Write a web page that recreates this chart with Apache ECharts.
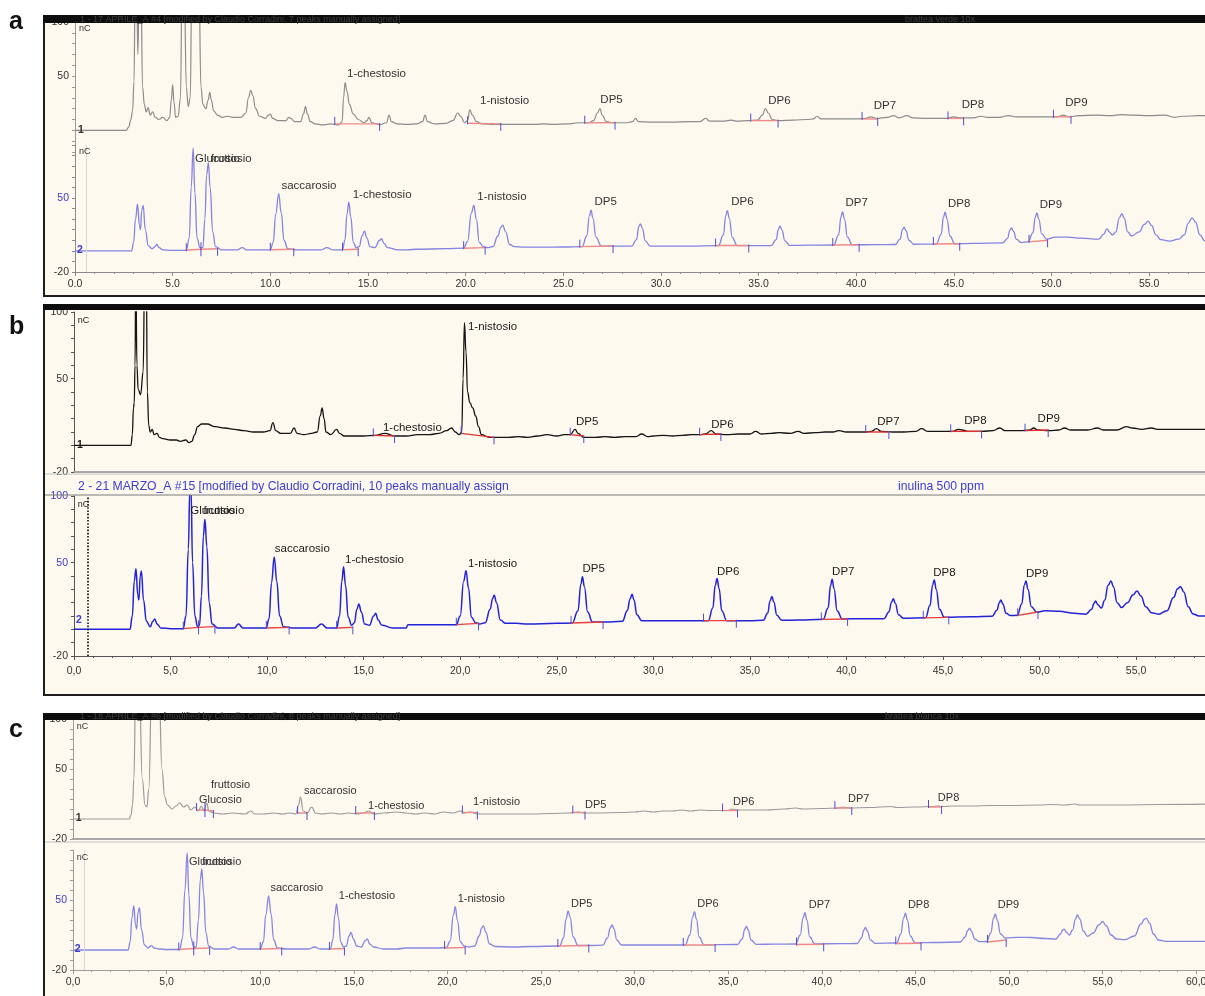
<!DOCTYPE html>
<html>
<head>
<meta charset="utf-8">
<script src="https://cdn.jsdelivr.net/npm/echarts@6/dist/echarts.min.js"></script>
<style>
  html, body { margin: 0; padding: 0; background: #ffffff; overflow: hidden; }
  #chart { width: 1205px; height: 996px; }
</style>
</head>
<body>
<div id="chart"></div>
<script>
// ---------- chromatogram traces: [retention time (min), signal (nC)] ----------

// a: upper sample trace
const traceA1 = [[0,0],[2.62,0],[2.75,3],[2.86,10],[2.95,18],[3.02,45],[3.08,130],[3.16,130],[3.22,70],[3.28,130],[3.38,130],[3.46,40],[3.55,24],[3.65,17],[3.75,21],[3.85,14],[3.98,17],[4.1,12],[4.3,10],[4.5,12],[4.7,9],[4.85,12],[4.93,28],[5.0,42],[5.07,26],[5.15,12],[5.28,13],[5.4,30],[5.48,130],[5.6,130],[5.7,40],[5.8,22],[5.9,30],[5.98,130],[6.35,130],[6.45,40],[6.55,24],[6.7,20],[6.82,28],[6.9,35],[6.98,28],[7.1,18],[7.3,14],[7.55,12],[7.8,13],[8.1,12],[8.5,12],[8.75,16],[8.88,30],[9.0,37],[9.1,32],[9.25,20],[9.45,13],[9.75,11],[9.9,14],[10.0,15],[10.12,11],[10.4,9],[10.8,9],[10.95,12],[11.05,11],[11.25,8],[11.55,8],[11.7,15],[11.8,22],[11.9,15],[12.05,8],[12.3,6],[12.7,5],[13.1,6],[13.5,5],[13.68,8],[13.75,30],[13.83,44],[13.93,36],[14.05,24],[14.25,15],[14.5,10],[14.8,7],[14.95,9],[15.05,12],[15.2,7],[15.6,5],[15.95,7],[16.08,14],[16.2,8],[16.5,6],[17.0,5.5],[17.5,6],[17.8,8],[17.92,14],[18.05,8],[18.4,6],[19.0,6.5],[19.35,9],[19.6,16],[19.75,13],[19.95,7],[20.1,9],[20.22,19],[20.35,14],[20.55,8],[20.85,6],[21.5,5.5],[22.5,5.5],[23.5,5.5],[24.0,6],[24.5,5.5],[25.2,6],[25.8,7],[26.3,7],[26.55,9],[26.75,16],[26.88,20],[27.0,14],[27.2,8],[27.6,7],[28.2,7],[28.55,8],[28.7,11],[28.85,8],[29.5,7.5],[30.5,7.5],[31.5,8],[32.0,8],[32.3,11],[32.5,8.5],[33.2,8.5],[33.6,9.5],[33.9,8.5],[34.5,9],[34.95,9.5],[35.2,14],[35.35,20],[35.5,16],[35.7,10],[36.0,9],[36.8,9.5],[37.5,10],[37.8,10.5],[38.0,13],[38.2,10.5],[39.0,10.5],[40.0,10.5],[40.5,11],[40.75,12.5],[41.0,11],[41.6,12],[41.9,13.5],[42.2,11.5],[42.6,13.5],[42.9,11.5],[43.6,11],[44.6,11],[45.0,12.5],[45.3,11.5],[46.0,11.5],[46.4,13],[46.7,12],[47.3,12],[47.8,13.5],[48.2,12.5],[49.2,12.5],[50.3,12.5],[50.6,14],[50.9,12.5],[51.4,13.5],[52.3,14],[53.0,13.5],[53.6,14.5],[54.1,14],[55.0,13.5],[55.8,14],[56.3,12],[56.7,13],[57.5,13.5],[58,13.5]];

// a: lower standard trace
const traceA2 = [[0,0],[2.9,0],[3.0,8],[3.1,30],[3.2,44],[3.3,24],[3.35,20],[3.42,38],[3.49,43],[3.6,20],[3.75,5],[3.95,2],[4.1,4],[4.19,6],[4.3,3],[4.5,1],[5.0,0.5],[5.7,0.5],[5.85,12],[5.95,60],[6.05,97],[6.14,55],[6.25,12],[6.4,3],[6.55,3],[6.65,30],[6.74,72],[6.83,83],[6.92,60],[7.05,18],[7.2,4],[7.5,1],[8.3,1],[8.56,3],[8.8,1],[10.0,1],[10.15,8],[10.28,35],[10.43,54],[10.56,36],[10.7,10],[10.9,2],[11.3,1],[12.6,1],[12.9,3],[13.2,1],[13.7,1],[13.82,10],[13.93,35],[14.02,46],[14.12,32],[14.25,8],[14.4,3],[14.55,4],[14.7,14],[14.82,18.5],[14.95,12],[15.1,4],[15.35,3],[15.6,10],[15.7,11.4],[15.82,7],[16.0,3],[16.5,1],[17.0,1],[17.5,1.5],[19.0,2],[19.9,2.5],[20.1,9],[20.3,36],[20.42,43],[20.55,30],[20.7,8],[20.9,4],[21.1,3],[21.4,4],[21.65,14],[21.8,22],[21.9,24.3],[22.05,18],[22.25,6],[22.5,4],[23,3.5],[24,3.5],[25,3.6],[25.97,4],[26.2,14],[26.34,33],[26.42,38.4],[26.52,31],[26.67,13],[26.95,4.5],[27.5,4.5],[28.5,4.5],[28.75,10.5],[28.87,23],[28.95,25.5],[29.05,21.5],[29.2,9.5],[29.45,4.5],[30.5,4.5],[31.5,4.5],[32.95,5],[33.2,15],[33.32,33],[33.4,38],[33.5,31],[33.65,13],[33.9,5],[35,5],[35.65,5],[35.9,10.5],[36.02,20.5],[36.1,23.3],[36.2,19.5],[36.35,9.5],[36.6,5.2],[37.5,5.3],[38.85,5.5],[39.1,15],[39.22,32],[39.3,36.8],[39.4,30],[39.55,13],[39.8,5.7],[41,5.8],[42.0,6],[42.25,11],[42.37,20],[42.45,22.4],[42.55,19],[42.7,10],[42.95,6.2],[43.7,6.3],[44.1,6.5],[44.35,15.5],[44.47,32],[44.55,36.5],[44.65,30],[44.8,14],[45.05,6.7],[46,7],[47.5,7.5],[47.75,11.8],[47.87,19.5],[47.95,21.7],[48.05,18.5],[48.2,11],[48.45,7.8],[48.8,8.5],[49.05,17],[49.17,31.5],[49.25,35.9],[49.35,30],[49.5,16],[49.75,11],[50.2,13],[50.8,13],[51.5,12],[52.4,11],[52.7,16],[52.8,20],[52.85,20.8],[52.95,18],[53.12,15],[53.3,18],[53.47,31],[53.6,35.2],[53.72,31],[53.9,18],[54.1,14],[54.5,18],[54.75,25],[54.95,28],[55.12,24],[55.35,15],[55.6,10.5],[56.05,9.2],[56.5,11],[56.8,15],[57.0,26],[57.2,31.2],[57.38,27],[57.6,15],[57.85,9.5],[58.2,8.5]];

// b: upper sample trace
const traceB1 = [[0,0],[2.95,0],[3.02,8],[3.08,28],[3.12,32],[3.16,60],[3.2,130],[3.26,60],[3.32,42],[3.45,38],[3.58,55],[3.66,130],[3.74,130],[3.8,40],[3.87,15],[3.95,10],[4.05,12],[4.15,8],[4.3,9],[4.42,6],[4.6,5],[5.0,4],[5.3,4],[5.5,3],[5.8,4],[5.95,2],[6.1,3],[6.25,8],[6.4,14],[6.6,16],[6.9,16],[7.3,14],[7.8,13],[8.3,12],[8.8,11],[9.3,10],[9.8,10],[10.15,11],[10.3,17],[10.45,11],[10.7,9],[11.2,9],[11.4,13],[11.55,9],[11.9,8],[12.3,9],[12.6,10],[12.75,22],[12.85,28],[12.95,20],[13.05,10],[13.3,8],[13.6,12],[13.75,9],[14,7],[14.5,7],[15,7],[15.6,7.5],[16.1,9],[16.6,7],[17.2,7],[17.8,8],[18.4,8],[18.9,9],[19.3,11],[19.55,13],[19.75,10],[19.95,8],[20.08,10],[20.15,50],[20.22,92],[20.3,70],[20.38,40],[20.5,32],[20.65,28],[20.8,22],[20.95,14],[21.1,8],[21.5,6],[22,6],[22.5,6],[23,6.5],[23.5,6],[24,7],[24.5,8],[25,7],[25.4,8],[25.7,8],[25.95,12],[26.1,9],[26.4,6],[27,6],[27.5,6.5],[28,6],[28.5,6.5],[29.1,6.5],[29.4,8.5],[29.7,6.5],[30,7],[30.5,7.5],[31,7],[31.5,7.5],[32,8],[32.4,8],[32.7,8.5],[33.0,11],[33.25,8.5],[33.8,8],[34.4,8.5],[35.0,8.5],[35.3,10.5],[35.6,8.5],[36.1,9],[36.5,9.5],[37.1,9],[37.5,10.5],[37.8,9],[38.4,9.5],[38.9,10],[39.3,10],[39.6,11],[40.0,10],[40.6,10],[41.0,10],[41.3,10.5],[41.55,12.5],[41.8,10.5],[42.4,10],[43.0,10],[43.6,10.5],[43.9,12.5],[44.2,10.5],[45.0,10.5],[45.5,10.5],[45.8,12],[46.0,11.5],[46.3,10.5],[47.0,10.5],[47.6,11],[47.95,13],[48.2,11],[49.0,11],[49.5,11.5],[49.7,13],[49.9,11.5],[50.5,11],[51.0,11.5],[51.3,13],[51.6,11.5],[52.5,11.5],[53.0,13],[53.3,11.5],[54.0,11.5],[54.5,14],[54.8,13],[55.3,12],[55.8,13],[56.1,12],[57,12],[57.5,12],[58,12],[58.6,12]];

// b: lower standard trace (inulina 500 ppm)
const traceB2 = [[0,0],[2.9,0],[3.02,10],[3.12,36],[3.21,45.4],[3.3,26],[3.36,22],[3.43,40],[3.49,43.7],[3.6,22],[3.75,6],[3.95,2],[4.08,6],[4.18,7.7],[4.3,4],[4.5,1],[5.0,0.5],[5.65,0.5],[5.8,10],[5.92,60],[6.0,105],[6.06,105],[6.14,50],[6.26,10],[6.4,2],[6.5,3],[6.6,25],[6.7,70],[6.78,82.6],[6.88,62],[7.0,20],[7.15,4],[7.45,1],[8.3,1],[8.52,4],[8.75,1],[9.95,1],[10.1,8],[10.23,35],[10.37,54.3],[10.5,36],[10.65,10],[10.85,2],[11.3,1],[12.5,1],[12.82,4],[13.1,1],[13.6,1],[13.75,10],[13.87,36],[13.96,47],[14.06,33],[14.2,9],[14.38,3],[14.52,5],[14.65,15],[14.75,19],[14.88,13],[15.05,4],[15.3,3],[15.52,10],[15.62,12],[15.75,7],[15.95,3],[16.5,1],[17.2,1],[17.3,3.5],[19.0,3.5],[19.8,3.5],[20.0,10],[20.18,36],[20.3,44],[20.43,31],[20.58,9],[20.8,5],[21.0,4],[21.3,5],[21.55,15],[21.68,23],[21.76,25.6],[21.88,20],[22.08,7],[22.35,4.5],[22.9,4.5],[23.5,4],[25.0,4.5],[25.8,4.7],[26.1,14],[26.25,34],[26.33,39.5],[26.43,32],[26.6,13],[26.85,5.5],[27.5,5.5],[28.4,6],[28.65,14],[28.8,23],[28.9,26.3],[29.0,22],[29.15,11],[29.4,6.5],[30.5,6.5],[32,6.5],[32.85,6.5],[33.08,16],[33.21,33],[33.3,38.2],[33.4,31],[33.55,14],[33.8,6.5],[35,6.5],[35.7,6.8],[35.92,12],[36.05,21.5],[36.14,24.6],[36.24,20.5],[36.4,10.5],[36.65,6.8],[37.5,7],[38.8,7.5],[39.05,16],[39.18,33],[39.26,37.5],[39.36,30.5],[39.52,14],[39.78,7.8],[41,8],[41.95,8],[42.2,13],[42.34,20.5],[42.43,23],[42.53,19.5],[42.7,11],[42.95,8.3],[44.1,8.7],[44.33,18],[44.46,33],[44.55,37],[44.65,30],[44.82,15],[45.07,9],[46.5,9.5],[47.55,9.8],[47.8,14.5],[47.92,20],[48.0,22],[48.1,19],[48.27,12],[48.5,10.3],[48.85,10.5],[49.08,19],[49.21,33],[49.3,36.2],[49.4,30],[49.58,17],[49.85,13],[50.3,13.9],[51.0,13.5],[51.8,12],[52.4,11.4],[52.7,15],[52.82,19.5],[52.9,21.3],[53.02,18.5],[53.2,16],[53.38,22],[53.55,33],[53.7,36.2],[53.83,32],[54.02,20],[54.25,16.4],[54.55,20],[54.85,26],[55.05,28.8],[55.25,25],[55.5,17],[55.8,12.5],[56.16,11.4],[56.6,14],[56.95,24],[57.15,30.5],[57.3,32],[57.47,28],[57.7,17],[57.95,11.5],[58.27,10],[58.6,10]];

// c: upper sample trace
const traceC1 = [[0,0],[3.0,0],[3.1,4],[3.18,14],[3.25,40],[3.35,130],[3.55,130],[3.7,40],[3.85,14],[3.95,12],[4.05,30],[4.2,130],[4.6,130],[4.75,50],[4.9,22],[5.05,14],[5.3,10],[5.5,13],[5.7,16],[5.9,12],[6.1,14],[6.3,9],[6.5,12],[6.7,8],[6.85,13],[7.0,8],[7.15,16],[7.25,8],[7.5,6],[8,5],[8.5,6],[9.2,5],[9.5,8],[9.7,5],[10.2,5],[10.7,6],[11.2,5],[11.6,6],[11.9,5],[12.05,14],[12.15,22],[12.3,8],[12.5,6],[12.75,12],[12.95,6],[13.3,5],[13.8,6],[14.3,5],[14.7,6],[15.2,5],[15.5,6],[15.8,8],[16.1,5],[16.6,6],[17.3,7],[17.8,6],[18.3,5],[18.8,6],[19.3,5],[19.8,7],[20.3,6],[20.7,8],[20.9,6],[21.2,7],[21.6,5],[22.5,5],[23.5,5],[24.5,5],[25.5,5.5],[26.5,6],[27,7],[27.3,6],[28,6],[29.3,6.5],[30,7],[30.5,8],[31,7],[31.5,8],[32,8],[32.5,9],[33,8],[33.5,9],[34,8.5],[35,8.5],[35.2,10],[35.5,9],[36,9],[37,9],[38,10],[38.6,11],[39,10],[40,10.5],[40.9,11],[41.1,12],[41.5,11],[42.5,11.5],[43.7,12.5],[44,11.5],[45,12],[45.9,12.5],[46.2,13],[46.5,12.5],[47,13],[48,13],[49,13.5],[50,13.5],[51.7,14],[52.2,14.5],[53,14],[53.5,15],[53.8,14],[54.5,14],[56,14],[58,14.5],[61,15]];

// c: lower standard trace
const traceC2 = [[0,0],[2.95,0],[3.05,8],[3.15,32],[3.25,44.4],[3.34,25],[3.4,21],[3.47,37],[3.55,42.4],[3.66,20],[3.82,5],[4.0,2],[4.12,3.5],[4.2,4.4],[4.32,2],[4.6,1],[5.0,0.5],[5.7,0.5],[5.85,12],[5.98,60],[6.1,97],[6.19,55],[6.3,12],[6.45,3],[6.58,3],[6.7,30],[6.8,70],[6.88,81],[6.97,58],[7.1,17],[7.25,4],[7.55,1],[8.3,1],[8.58,3],[8.85,1],[10.0,1],[10.17,8],[10.3,35],[10.45,54],[10.58,36],[10.72,10],[10.92,2],[11.4,1],[12.6,1],[12.9,3],[13.2,1],[13.75,1],[13.88,10],[13.99,35],[14.08,46],[14.18,32],[14.3,8],[14.45,3],[14.6,4],[14.75,14],[14.85,17.6],[14.98,11],[15.15,4],[15.4,3],[15.62,9.5],[15.72,11],[15.85,6],[16.05,3],[16.6,1],[17.3,1],[17.8,2],[19.5,2],[19.95,2.5],[20.15,9],[20.32,35],[20.42,43.4],[20.53,30],[20.7,8],[20.9,4],[21.15,3],[21.45,4],[21.7,14],[21.83,22],[21.92,24.2],[22.05,18],[22.25,6],[22.55,3.5],[23.5,3],[24.5,3.5],[26.0,4],[26.2,12],[26.34,31],[26.45,39],[26.55,33],[26.72,13],[26.98,4.5],[27.6,4.5],[28.3,4.8],[28.55,12],[28.7,22],[28.8,25],[28.9,21],[29.05,10],[29.3,5],[30.5,5],[32.7,5],[32.95,15],[33.1,33],[33.2,38.4],[33.3,31],[33.45,13],[33.7,5.2],[35.5,5.5],[35.75,11],[35.88,20.5],[35.97,23.5],[36.07,20],[36.22,10],[36.5,5.7],[37.5,5.8],[38.6,6],[38.85,15],[39.0,32],[39.1,37.4],[39.2,30],[39.36,13],[39.62,6.2],[41,6.3],[41.9,6.5],[42.12,12],[42.25,20],[42.33,22.6],[42.43,19],[42.6,10],[42.85,6.7],[44.0,7],[44.22,16],[44.37,32],[44.47,36.8],[44.57,30],[44.73,14],[44.98,7.2],[46,7.5],[47.4,8],[47.65,13],[47.8,19.5],[47.9,21.9],[48.0,18.5],[48.17,11],[48.42,8.3],[48.8,8.5],[49.03,17],[49.17,31.5],[49.27,36],[49.37,30],[49.55,16],[49.8,12],[50.5,12.7],[51.2,12.5],[51.9,11.5],[52.5,11],[52.75,16],[52.87,20],[52.95,20.9],[53.05,18],[53.22,15],[53.4,20],[53.55,31],[53.65,35],[53.78,31],[53.97,19],[54.2,13.7],[54.5,17],[54.8,25],[55.0,28.5],[55.2,24],[55.45,15],[55.75,11],[56.2,10.4],[56.7,14],[57.05,26],[57.25,31],[57.33,31.8],[57.5,27],[57.72,16],[57.98,10],[58.4,8.7],[59.5,8.7],[61,8.7]];

// ---------- integration baselines: [t start, signal start, t end, signal end] ----------
const integA1 = [[13.3,6,15.6,6],[20.1,6.5,21.8,6],[26.1,7,27.65,7],[34.6,9,36.0,9],[40.3,10.5,41.1,10.5],[44.7,11,45.5,11],[50.1,12.5,51.0,12.5]];
const integA2 = [[5.7,0.5,6.45,1.5],[6.45,1.5,7.3,2],[10.0,1,11.2,1.5],[13.7,1,14.5,1.5],[19.9,2.5,21.0,3],[25.85,4,27.55,4.5],[32.8,5,34.5,5],[38.8,5.5,40.15,5.7],[43.95,6.5,45.3,6.7],[48.85,8.5,49.8,10]];
const integB1 = [[15.5,7.5,16.6,7],[20.05,9,21.75,6],[25.7,8,26.4,7],[32.4,8,33.5,8.5],[41.0,10,42.2,10],[45.4,10.5,47.0,10.5],[49.25,11,50.45,11.5]];
const integB2 = [[5.66,0.5,6.45,1.5],[6.45,1.5,7.3,2],[9.96,1,11.14,1.5],[13.6,1,14.44,1.5],[19.8,3.5,20.95,4.5],[25.74,4.7,27.4,5.5],[32.6,6.5,34.3,6.5],[38.7,7.5,40.06,7.8],[43.98,8.6,45.3,9],[48.87,10.5,49.92,13]];
const integC1 = [[6.6,9,7.05,9],[7.05,9,7.5,8],[12.0,6,12.5,6],[15.1,6,16.1,6],[20.8,6.5,21.6,6.5],[26.7,6.5,27.35,6.5],[34.7,8.5,35.5,8.5],[40.7,11,41.6,11],[45.7,12,46.4,12]];
const integC2 = [[5.65,0.5,6.45,1.5],[6.45,1.5,7.3,2],[10.0,1,11.15,1.5],[13.7,1,14.5,1.5],[19.85,2,20.95,2.5],[25.9,4,27.55,4.5],[32.6,5,34.3,5],[38.65,5.5,40.1,5.7],[43.95,6.5,45.3,6.7],[48.85,8,49.85,10]];

// ---------- peak names: [text, t, signal at text baseline] ----------
const labelsA1 = [['nC',0.2,90],['1',0.15,-4.5],['1-chestosio',13.93,47],['1-nistosio',20.74,22],['DP5',26.9,23],['DP6',35.5,22],['DP7',40.9,16.7],['DP8',45.4,17.6],['DP9',50.7,19.4]];
const labelsA2 = [['nC',0.2,90],['2',0.1,-4.5],['Glucosio',6.15,81.5],['fruttosio',6.95,81.5],['saccarosio',10.57,56],['1-chestosio',14.22,47.5],['1-nistosio',20.6,45.3],['DP5',26.6,41],['DP6',33.6,40.7],['DP7',39.45,40],['DP8',44.7,38.5],['DP9',49.4,38]];
const labelsB1 = [['nC',0.2,90],['1',0.15,-4],['1-chestosio',16.0,8.8],['1-nistosio',20.4,84.5],['DP5',26.0,13.3],['DP6',33.0,11],['DP7',41.6,13.3],['DP8',46.1,14],['DP9',49.9,15.5]];
const labelsB2 = [['nC',0.2,90],['2',0.1,3],['Glucosio',6.02,84.5],['fruttosio',6.7,84.5],['saccarosio',10.4,56],['1-chestosio',14.04,48],['1-nistosio',20.4,45],['DP5',26.33,40.6],['DP6',33.3,39],['DP7',39.26,38.7],['DP8',44.5,38],['DP9',49.3,37.5]];
const labelsC1 = [['nC',0.2,88],['1',0.15,-5],['fruttosio',7.37,29],['Glucosio',6.73,14],['saccarosio',12.34,23],['1-chestosio',15.76,8],['1-nistosio',21.37,12],['DP5',27.35,9],['DP6',35.26,12],['DP7',41.4,15],['DP8',46.2,16]];
const labelsC2 = [['nC',0.2,88],['2',0.1,-5],['Glucosio',6.2,83],['fruttosio',6.9,83],['saccarosio',10.55,57],['1-chestosio',14.2,49],['1-nistosio',20.55,46],['DP5',26.6,41],['DP6',33.35,40.5],['DP7',39.3,40],['DP8',44.6,40],['DP9',49.4,39.5]];

// y tick values that carry a number, per trace
const yTicksA1 = [100, 50];
const yTicksA2 = [50, -20];
const yTicksB1 = [100, 50, -20];
const yTicksB2 = [100, 50, -20];
const yTicksC1 = [100, 50, -20];
const yTicksC2 = [50, -20];

// run end on each time axis
const timeEndA = 57.86, timeEndB = 58.57, timeEndC = 60.47;

// ---------- layout and styling ----------
const FONT = '"Liberation Sans", Arial, Helvetica, sans-serif';
const CREAM = '#fdf9ee';
const BLUE_LABEL = '#3a3ad2';

const traces = [
  { data: traceA1, integ: integA1, labels: labelsA1, yTicks: yTicksA1, tEnd: timeEndA,
    left: 75, top: 22, height: 130, color: '#8c8c8c', width: 1.2, red: '#f08a8a',
    xMode: 'none', dec: '.', axisColor: '#9a9a9a', fs: 11.5 },
  { data: traceA2, integ: integA2, labels: labelsA2, yTicks: yTicksA2, tEnd: timeEndA,
    left: 75, top: 145, height: 127, color: '#8383e2', width: 1.3, red: '#f08a8a',
    xMode: 'full', dec: '.', axisColor: '#8a8a8a', fs: 11.5, mark: { t: 0.6, color: '#d8d8d8', type: 'solid', width: 1 } },
  { data: traceB1, integ: integB1, labels: labelsB1, yTicks: yTicksB1, tEnd: timeEndB,
    left: 74, top: 312, height: 160, color: '#141414', width: 1.3, red: '#e43030',
    xMode: 'line', dec: ',', axisColor: '#555', fs: 11.5 },
  { data: traceB2, integ: integB2, labels: labelsB2, yTicks: yTicksB2, tEnd: timeEndB,
    left: 74, top: 496, height: 160, color: '#2323d8', width: 1.5, red: '#e84040',
    xMode: 'full', dec: ',', axisColor: '#555', fs: 11.5, mark: { t: 0.72, color: '#111', type: 'dotted', width: 1.6 } },
  { data: traceC1, integ: integC1, labels: labelsC1, yTicks: yTicksC1, tEnd: timeEndC,
    left: 73, top: 719, height: 120, color: '#9a9a9a', width: 1.2, red: '#f08a8a',
    xMode: 'line', dec: ',', axisColor: '#9a9a9a', fs: 11 },
  { data: traceC2, integ: integC2, labels: labelsC2, yTicks: yTicksC2, tEnd: timeEndC,
    left: 73, top: 850, height: 120, color: '#8686e2', width: 1.3, red: '#f08a8a',
    xMode: 'full', dec: ',', axisColor: '#9a9a9a', fs: 11, mark: { t: 0.6, color: '#d8d8d8', type: 'solid', width: 1 } }
];

const grids = [], xAxes = [], yAxes = [], series = [];

traces.forEach((tr, i) => {
  grids.push({ left: tr.left, top: tr.top, right: 0, height: tr.height,
               containLabel: false, outerBoundsMode: 'none' });

  const full = tr.xMode === 'full';
  xAxes.push({
    type: 'value', gridIndex: i, min: 0, max: tr.tEnd, interval: 5,
    show: tr.xMode !== 'none',
    axisLine: { show: true, onZero: false,
                lineStyle: { color: full ? tr.axisColor : '#a8a8a8', width: full ? 1 : 2 } },
    axisTick: { show: full, length: 4, lineStyle: { color: tr.axisColor } },
    minorTick: { show: full, splitNumber: 5, length: 2, lineStyle: { color: tr.axisColor } },
    axisLabel: { show: full, showMaxLabel: false, fontFamily: FONT, fontSize: 10.5, color: '#333',
                 margin: i === 3 ? 10 : 7,
                 formatter: v => v.toFixed(1).replace('.', tr.dec) },
    splitLine: { show: false }
  });

  yAxes.push({
    type: 'value', gridIndex: i, min: -20, max: 100, interval: 10,
    axisLine: { show: true, onZero: false, lineStyle: { color: tr.axisColor, width: 1 } },
    axisTick: { show: true, length: 3, lineStyle: { color: tr.axisColor } },
    axisLabel: {
      fontFamily: FONT, fontSize: 10.5, margin: 6,
      formatter: v => (tr.yTicks.indexOf(v) >= 0 ? String(v) : ''),
      color: v => ((i % 2 === 1 && v > 0) ? BLUE_LABEL : '#333')
    },
    splitLine: { show: false }
  });

  const line = {
    type: 'line', xAxisIndex: i, yAxisIndex: i, data: tr.data,
    showSymbol: false, symbol: 'none', smooth: 0.45, smoothMonotone: 'x',
    lineStyle: { color: tr.color, width: tr.width }, z: 3, silent: true, clip: true
  };
  if (tr.mark) {
    line.markLine = { symbol: 'none', silent: true, label: { show: false },
      lineStyle: { color: tr.mark.color, type: tr.mark.type, width: tr.mark.width },
      data: [{ xAxis: tr.mark.t }] };
  }
  series.push(line);

  // integration baseline with peak start / end markers
  series.push({
    type: 'custom', xAxisIndex: i, yAxisIndex: i, data: tr.integ, z: 4, silent: true,
    encode: { x: [0, 2], y: [1, 3] },
    renderItem: (params, api) => {
      const a = api.coord([api.value(0), api.value(1)]);
      const b = api.coord([api.value(2), api.value(3)]);
      return { type: 'group', children: [
        { type: 'line', shape: { x1: a[0], y1: a[1], x2: b[0], y2: b[1] },
          style: { stroke: tr.red, lineWidth: 1.4 } },
        { type: 'line', shape: { x1: a[0], y1: a[1] + 1, x2: a[0], y2: a[1] - 7 },
          style: { stroke: '#4f4fd0', lineWidth: 1 } },
        { type: 'line', shape: { x1: b[0], y1: b[1] - 1, x2: b[0], y2: b[1] + 7 },
          style: { stroke: '#4f4fd0', lineWidth: 1 } }
      ] };
    }
  });

  // peak names and trace markers
  series.push({
    type: 'custom', xAxisIndex: i, yAxisIndex: i, z: 5, silent: true, clip: false,
    data: tr.labels.map(l => [l[1], l[2]]),
    renderItem: (params, api) => {
      const p = api.coord([api.value(0), api.value(1)]);
      const txt = tr.labels[params.dataIndex][0];
      const isMarker = txt === '1' || txt === '2';
      return { type: 'text', x: p[0], y: p[1], style: {
        text: txt,
        font: (isMarker ? 'bold 10.5px ' : (txt === 'nC' ? '9px ' : tr.fs + 'px ')) + FONT,
        fill: txt === '2' ? BLUE_LABEL : (i === 2 || i === 3 ? '#1a1a1a' : '#333'),
        align: 'left', verticalAlign: 'bottom', textAlign: 'left', textVerticalAlign: 'bottom'
      } };
    }
  });
});

// frames, title bars and headers around each chromatogram window
const graphic = [
  { type: 'rect', z: -10, silent: true, shape: { x: 44, y: 16, width: 1200, height: 280 },
    style: { fill: CREAM, stroke: '#1e1e1e', lineWidth: 2 } },
  { type: 'rect', z: -10, silent: true, shape: { x: 44, y: 305, width: 1200, height: 390 },
    style: { fill: CREAM, stroke: '#1e1e1e', lineWidth: 2 } },
  { type: 'rect', z: -10, silent: true, shape: { x: 44, y: 714, width: 1200, height: 320 },
    style: { fill: CREAM, stroke: '#1e1e1e', lineWidth: 2 } },

  { type: 'rect', z: 20, silent: true, shape: { x: 43, y: 15, width: 1200, height: 8 }, style: { fill: '#0d0d0d' } },
  { type: 'rect', z: 20, silent: true, shape: { x: 43, y: 304, width: 1200, height: 6 }, style: { fill: '#0d0d0d' } },
  { type: 'rect', z: 20, silent: true, shape: { x: 43, y: 713, width: 1200, height: 7 }, style: { fill: '#0d0d0d' } },

  { type: 'text', z: 21, silent: true, x: 80, y: 19.5, style: { text: '1 - 17 APRILE_A #4 [modified by Claudio Corradini, 7 peaks manually assigned]',
    font: '9px ' + FONT, fill: '#3c3c3c', verticalAlign: 'middle' } },
  { type: 'text', z: 21, silent: true, x: 905, y: 19.5, style: { text: 'brattea verde 10x',
    font: '9px ' + FONT, fill: '#3c3c3c', verticalAlign: 'middle' } },
  { type: 'text', z: 21, silent: true, x: 80, y: 717, style: { text: '1 - 18 APRILE_A #6 [modified by Claudio Corradini, 8 peaks manually assigned]',
    font: '9px ' + FONT, fill: '#3c3c3c', verticalAlign: 'middle' } },
  { type: 'text', z: 21, silent: true, x: 885, y: 717, style: { text: 'brattea bianca 10x',
    font: '9px ' + FONT, fill: '#3c3c3c', verticalAlign: 'middle' } },

  { type: 'text', z: 21, silent: true, x: 78, y: 487, style: { text: '2 - 21 MARZO_A #15 [modified by Claudio Corradini, 10 peaks manually assign',
    font: '12.2px ' + FONT, fill: '#3b3bd4', verticalAlign: 'middle' } },
  { type: 'text', z: 21, silent: true, x: 898, y: 487, style: { text: 'inulina 500 ppm',
    font: '12.2px ' + FONT, fill: '#3b3bd4', verticalAlign: 'middle' } },

  { type: 'line', z: 1, silent: true, shape: { x1: 45, y1: 495, x2: 1205, y2: 495 }, style: { stroke: '#7a7a7a', lineWidth: 1 } },
  { type: 'line', z: 1, silent: true, shape: { x1: 45, y1: 474, x2: 1205, y2: 474 }, style: { stroke: '#c4c4c4', lineWidth: 1 } },
  { type: 'line', z: 1, silent: true, shape: { x1: 45, y1: 842, x2: 1205, y2: 842 }, style: { stroke: '#c4c4c4', lineWidth: 1 } },

  { type: 'text', z: 21, silent: true, x: 9, y: 22, style: { text: 'a', font: 'bold 25px ' + FONT, fill: '#111', verticalAlign: 'middle' } },
  { type: 'text', z: 21, silent: true, x: 9, y: 327, style: { text: 'b', font: 'bold 25px ' + FONT, fill: '#111', verticalAlign: 'middle' } },
  { type: 'text', z: 21, silent: true, x: 9, y: 730, style: { text: 'c', font: 'bold 25px ' + FONT, fill: '#111', verticalAlign: 'middle' } }
];

const chart = echarts.init(document.getElementById('chart'), null, { renderer: 'canvas' });
chart.setOption({
  animation: false,
  backgroundColor: '#ffffff',
  textStyle: { fontFamily: FONT },
  grid: grids,
  xAxis: xAxes,
  yAxis: yAxes,
  series: series,
  graphic: graphic
});
</script>
</body>
</html>
